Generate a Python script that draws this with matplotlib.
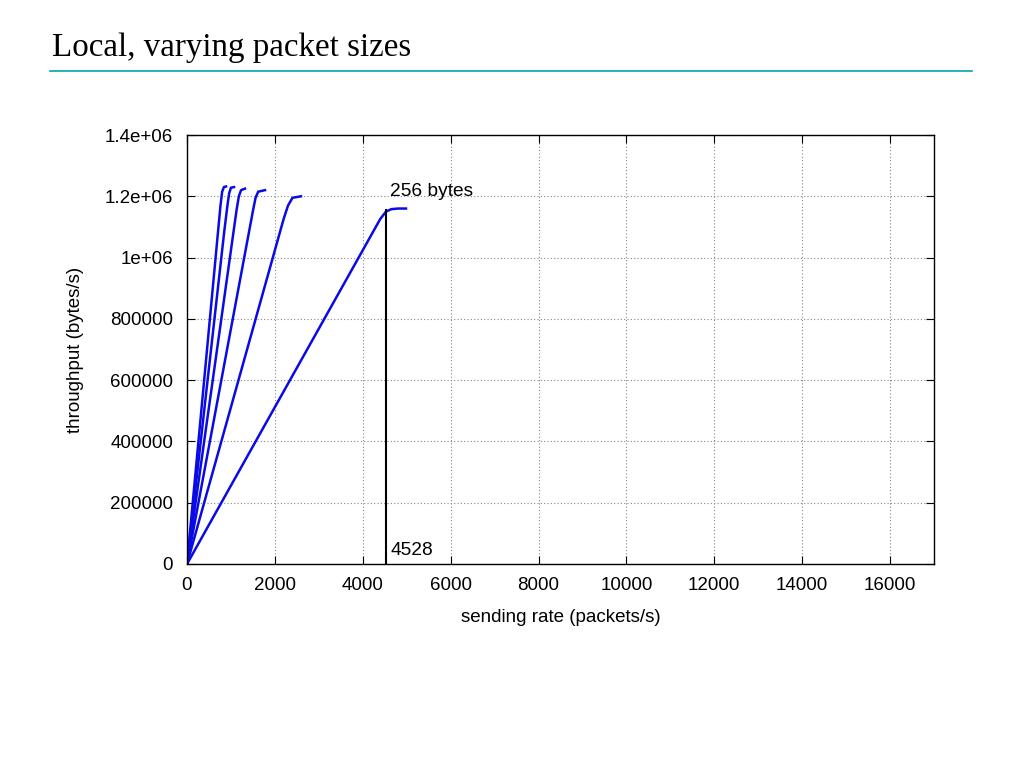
import matplotlib
matplotlib.use("Agg")
import matplotlib.pyplot as plt
from matplotlib.lines import Line2D

# sending rate (packets/s) vs throughput (bytes/s), one curve per packet size
rate_1536 = [0, 200, 400, 600, 700, 760, 800, 840, 888]
tput_1536 = [0, 307200, 614400, 921600, 1075200, 1167000, 1215000, 1230000, 1232000]

rate_1280 = [0, 250, 500, 750, 850, 920, 960, 1000, 1070]
tput_1280 = [0, 320000, 640000, 960000, 1088000, 1170000, 1210000, 1228000, 1230000]

rate_1024 = [0, 300, 600, 900, 1050, 1130, 1180, 1230, 1320]
tput_1024 = [0, 307200, 614400, 921600, 1075200, 1157000, 1200000, 1220000, 1225000]

rate_768 = [0, 400, 800, 1200, 1400, 1500, 1560, 1620, 1775]
tput_768 = [0, 307200, 614400, 921600, 1075200, 1152000, 1195000, 1215000, 1220000]

rate_512 = [0, 500, 1000, 1500, 2000, 2200, 2300, 2400, 2594]
tput_512 = [0, 256000, 512000, 768000, 1024000, 1126400, 1170000, 1195000, 1200000]

rate_256 = [0, 1000, 2000, 3000, 4000, 4400, 4528, 4650, 4800, 4984]
tput_256 = [0, 256000, 512000, 768000, 1024000, 1126400, 1150000, 1158000, 1160000, 1160000]

curves = [(rate_1536, tput_1536), (rate_1280, tput_1280), (rate_1024, tput_1024),
          (rate_768, tput_768), (rate_512, tput_512), (rate_256, tput_256)]

marker_rate = 4528
marker_tput = 1155000

xticks = [0, 2000, 4000, 6000, 8000, 10000, 12000, 14000, 16000]
yticks = [0, 200000, 400000, 600000, 800000, 1000000, 1200000, 1400000]
ytick_labels = ["0", "200000", "400000", "600000", "800000", "1e+06", "1.2e+06", "1.4e+06"]

plt.rcParams['font.family'] = ['Liberation Sans', 'DejaVu Sans']

fig = plt.figure(figsize=(10.24, 7.68), dpi=100)

# slide title and rule
fig.text(52/1024, 1 - 48/768, "Local, varying packet sizes", family="Liberation Serif",
         fontsize=23.8, va="center", ha="left")
fig.add_artist(Line2D([50/1024, 972/1024], [1 - 71/768, 1 - 71/768],
                      color="#00a8a8", lw=1.2))

ax = fig.add_axes([187/1024, 1 - 564/768, (934 - 187)/1024, (564 - 135)/768])

for r, t in curves:
    ax.plot(r, t, color="#0a0ae6", lw=1.8)

ax.plot([marker_rate, marker_rate], [0, marker_tput], color="black", lw=1.5)
ax.text(4620, 1217000, "256 bytes", fontsize=13.8, va="center", ha="left")
ax.text(4620, 45000, "4528", fontsize=13.8, va="center", ha="left")

ax.set_xlim(0, 17000)
ax.set_ylim(0, 1400000)
ax.set_xticks(xticks)
ax.set_xticklabels([str(v) for v in xticks])
ax.set_yticks(yticks)
ax.set_yticklabels(ytick_labels)
ax.tick_params(direction="in", top=True, right=True, labelsize=13.5, length=6)
ax.tick_params(axis="y", pad=10)
ax.tick_params(axis="x", pad=9)
ax.grid(True, color="#888888", linestyle=(0, (1, 2)), lw=0.8)
ax.set_axisbelow(True)
for s in ax.spines.values():
    s.set_linewidth(1.0)

ax.set_xlabel("sending rate (packets/s)", fontsize=13.5, labelpad=11)
ax.set_ylabel("throughput (bytes/s)", fontsize=13.5, labelpad=15)

fig.savefig("out.png", dpi=100)
